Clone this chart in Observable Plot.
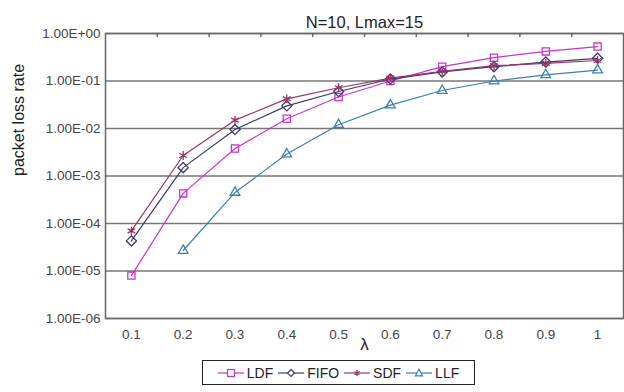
<!DOCTYPE html>
<html><head><meta charset="utf-8">
<script src="https://cdn.jsdelivr.net/npm/d3@7"></script>
<script src="https://cdn.jsdelivr.net/npm/@observablehq/plot@0.6"></script>
<style>
body{margin:0;background:#fff;font-family:"Liberation Sans",Arial,sans-serif;}
#legend{position:absolute;left:202px;top:360px;width:271px;height:23px;border:1.5px solid #222;display:flex;align-items:center;justify-content:center;gap:5px;font-size:14px;color:#222;box-sizing:content-box}
#legend span{display:flex;align-items:center;gap:3px}
</style></head><body>
<div id="chart"></div>
<div id="legend"></div>
<script>
const title = "N=10, Lmax=15";
const lambdas = [0.1,0.2,0.3,0.4,0.5,0.6,0.7,0.8,0.9,1];
const LDF  = [8e-6, 4.3e-4, 3.8e-3, 1.6e-2, 4.6e-2, 1.0e-1, 2.0e-1, 3.1e-1, 4.2e-1, 5.3e-1];
const FIFO = [4.3e-5, 1.5e-3, 9.5e-3, 3.0e-2, 6.0e-2, 1.1e-1, 1.55e-1, 2.0e-1, 2.5e-1, 3.0e-1];
const SDF  = [7e-5, 2.7e-3, 1.5e-2, 4.2e-2, 7.2e-2, 1.15e-1, 1.6e-1, 2.1e-1, 2.35e-1, 2.7e-1];
const LLF  = [null, 2.7e-5, 4.5e-4, 2.9e-3, 1.2e-2, 3.1e-2, 6.3e-2, 1.0e-1, 1.35e-1, 1.7e-1];
const yTicks = [1, 1e-1, 1e-2, 1e-3, 1e-4, 1e-5, 1e-6];
const yTickLabels = ["1.00E+00","1.00E-01","1.00E-02","1.00E-03","1.00E-04","1.00E-05","1.00E-06"];
const xTickLabels = ["0.1","0.2","0.3","0.4","0.5","0.6","0.7","0.8","0.9","1"];
const xBoundaries = [0.15,0.25,0.35,0.45,0.55,0.65,0.75,0.85,0.95];

const series = [
  {name:"LDF", values:LDF, color:"#cc33cc", symbol:"square2", r:4.6},
  {name:"FIFO", values:FIFO, color:"#3a3a6e", symbol:"diamond2", r:4.6},
  {name:"SDF", values:SDF, color:"#993366", symbol:"asterisk", r:4.2},
  {name:"LLF", values:LLF, color:"#3c7fb0", symbol:"triangle2", r:4.6}
];
const rows = series.flatMap(s => lambdas.map((l,i) => ({series:s.name, x:l, y:s.values[i]})).filter(d => d.y != null));

const marks = [
  Plot.gridY(yTicks, {stroke:"#777", strokeOpacity:1, strokeWidth:1.5}),
  Plot.frame({stroke:"#666", strokeWidth:1.5}),
  Plot.tickX(xBoundaries, {x:d=>d, stroke:"#666", strokeWidth:1.5, insetBottom:281}),
  Plot.axisY(yTicks, {tickSize:0, tickPadding:5, tickFormat:(d)=>yTickLabels[yTicks.indexOf(d)], fontSize:13.5, fill:"#444", label:null}),
  Plot.axisX(lambdas, {tickSize:0, tickPadding:11, tickFormat:(d)=>xTickLabels[lambdas.indexOf(d)], fontSize:13.5, fill:"#444", label:null}),
  Plot.text([title], {frameAnchor:"top", dy:-17, fontSize:16.5, fill:"#222"}),
  Plot.text(["λ"], {frameAnchor:"bottom", dy:31, fontSize:17, fill:"#222"}),
  Plot.text(["packet loss rate"], {frameAnchor:"left", dx:-87, rotate:-90, fontSize:16, fill:"#222"})
];
for (const s of series) {
  const d = rows.filter(r => r.series === s.name);
  marks.push(Plot.line(d, {x:"x", y:"y", stroke:s.color, strokeWidth:1.2}));
  marks.push(Plot.dot(d, {x:"x", y:"y", symbol:()=>s.symbol, stroke:s.color, fill:"none", r:s.r, strokeWidth:1.3}));
}

const chart = Plot.plot({
  width:624, height:352,
  marginTop:33, marginBottom:34, marginLeft:105, marginRight:1,
  style:{fontFamily:"'Liberation Sans', Arial, sans-serif", background:"#fff"},
  x:{type:"linear", domain:[0.05,1.05], axis:null},
  y:{type:"log", domain:[1e-6,1], axis:null},
  symbol:{type:"identity"},
  marks
});
document.getElementById("chart").append(chart);

// Legend
const sym = {
  square2: `<rect x="-3.5" y="-3.5" width="7" height="7"/>`,
  diamond2: `<path d="M0,-3.5L3.5,0L0,3.5L-3.5,0Z"/>`,
  asterisk: `<path d="M0,-3V3M-2.6,-1.5L2.6,1.5M-2.6,1.5L2.6,-1.5"/>`,
  triangle2: `<path d="M0,-3.8L3.5,2.8H-3.5Z"/>`
};
const leg = document.getElementById("legend");
for (const s of series) {
  const el = document.createElement("span");
  el.innerHTML = `<svg width="26" height="12" viewBox="-13 -6 26 12"><line x1="-13" x2="13" stroke="${s.color}" stroke-width="1.2"/><g fill="#fff" stroke="${s.color}" stroke-width="1.2">${sym[s.symbol]}</g></svg>${s.name}`;
  leg.append(el);
}
</script>
</body></html>
